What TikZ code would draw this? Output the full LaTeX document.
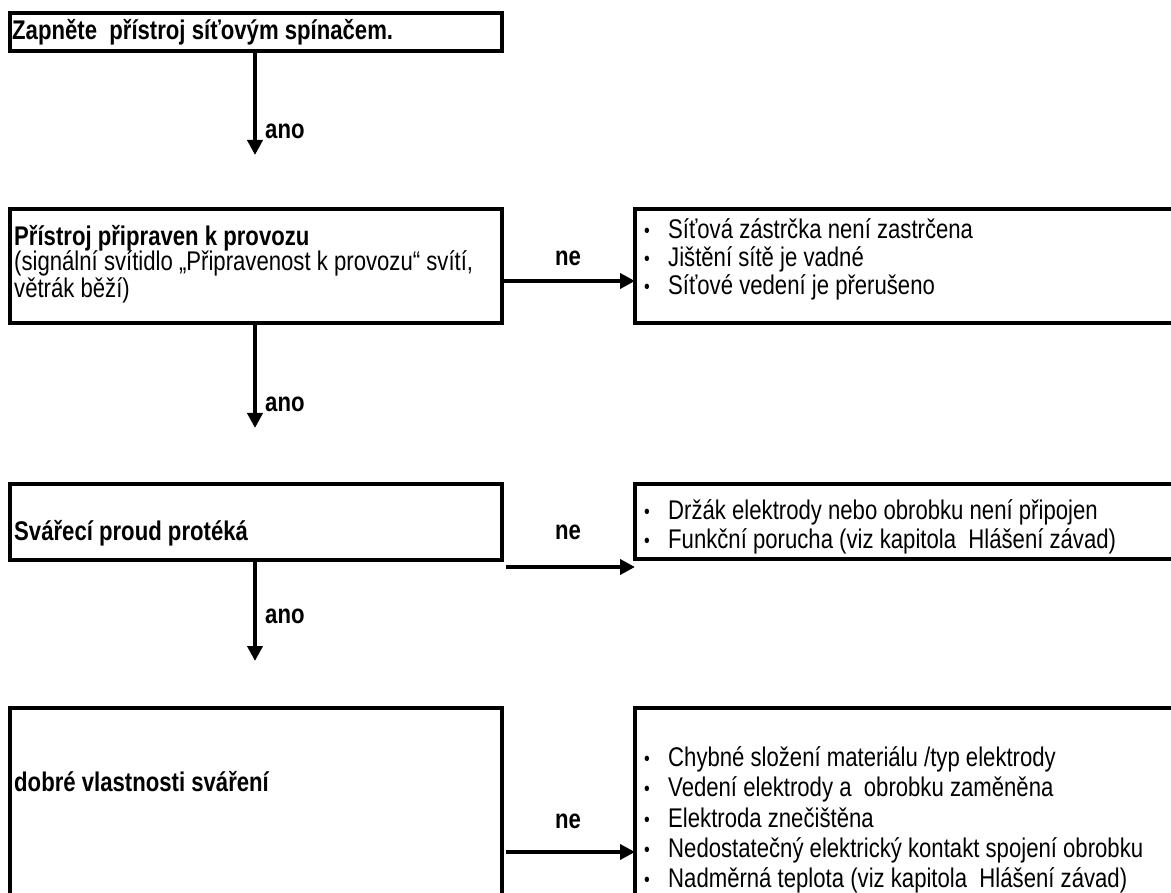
\documentclass[tikz,border=0pt]{standalone}
\usepackage{fontspec}
\setmainfont[FakeStretch=0.82]{Liberation Sans}
\usetikzlibrary{arrows.meta}
\newcommand\bul{\makebox[24pt][l]{\fontsize{20pt}{20pt}\selectfont\raisebox{1pt}{•}}}
\tikzset{
  box/.style={draw, line width=4.5pt, inner sep=0pt, outer sep=0pt, anchor=north west},
  txt/.style={anchor=base west, inner sep=0pt, font=\fontsize{27pt}{32pt}\selectfont},
  btxt/.style={anchor=base west, inner sep=0pt, font=\fontsize{27pt}{32pt}\selectfont\bfseries},
  lbl/.style={anchor=base, inner sep=0pt, font=\fontsize{27pt}{32pt}\selectfont\bfseries},
  albl/.style={anchor=base west, inner sep=0pt, font=\fontsize{27pt}{32pt}\selectfont\bfseries},
  flow/.style={line width=4pt, -{Triangle[length=15pt,width=15pt]}},
}
\begin{document}
\begin{tikzpicture}[x=1pt,y=-1pt]
\useasboundingbox (0,0) rectangle (1171,893);
\clip (0,0) rectangle (1171,893);
% left boxes
\node[box, minimum width=492pt, minimum height=38pt] (b1) at (10,13) {};
\node[box, minimum width=492pt, minimum height=114pt] (b2) at (10,209) {};
\node[box, minimum width=492pt, minimum height=76pt] (b3) at (10,484) {};
\node[box, minimum width=492pt, minimum height=199pt] (b4) at (10,708) {};
% right boxes
\node[box, minimum width=550pt, minimum height=114pt] (r1) at (635,209) {};
\node[box, minimum width=550pt, minimum height=75pt] (r3) at (635,484) {};
\node[box, minimum width=550pt, minimum height=199pt] (r4) at (635,708) {};
% texts in left boxes
\node[btxt] (t1) at (12,40) {Zapněte\ \ přístroj síťovým spínačem.};
\node[btxt] (t2a) at (14,246) {Přístroj připraven k provozu};
\node[txt] (t2b) at (14,271) {(signální svítidlo „Připravenost k provozu“ svítí,};
\node[txt] (t2c) at (14,298) {větrák běží)};
\node[btxt] (t3) at (14,540) {Svářecí proud protéká};
\node[btxt] (t4) at (14,791) {dobré vlastnosti sváření};
% texts in right boxes
\node[txt] (r1a) at (644,239) {\bul Síťová zástrčka není zastrčena};
\node[txt] (r1b) at (644,267) {\bul Jištění sítě je vadné};
\node[txt] (r1c) at (644,295) {\bul Síťové vedení je přerušeno};
\node[txt] (r3a) at (644,519) {\bul Držák elektrody nebo obrobku není připojen};
\node[txt] (r3b) at (644,548) {\bul Funkční porucha (viz kapitola\ \ Hlášení závad)};
\node[txt] (r4a) at (644,766) {\bul Chybné složení materiálu /typ elektrody};
\node[txt] (r4b) at (644,796) {\bul Vedení elektrody a\ \ obrobku zaměněna};
\node[txt] (r4c) at (644,827) {\bul Elektroda znečištěna};
\node[txt] (r4d) at (644,857) {\bul Nedostatečný elektrický kontakt spojení obrobku};
\node[txt] (r4e) at (644,887) {\bul Nadměrná teplota (viz kapitola\ \ Hlášení závad)};
% vertical arrows
\coordinate (e1) at (255,155);
\coordinate (e2) at (255,428);
\coordinate (e3) at (255,661);
\draw[flow] (b1.south -| e1) -- (e1);
\draw[flow] (b2.south -| e2) -- (e2);
\draw[flow] (b3.south -| e3) -- (e3);
\node[albl] (ano1) at (265,139) {ano};
\node[albl] (ano2) at (265,412) {ano};
\node[albl] (ano3) at (265,623) {ano};
% horizontal arrows
\coordinate (s2) at (502,281);
\coordinate (s3) at (506,567);
\coordinate (s4) at (506,852);
\draw[flow] (s2) -- (r1.west |- s2);
\draw[flow] (s3) -- (r3.west |- s3);
\draw[flow] (s4) -- (r4.west |- s4);
\node[lbl] (ne1) at (568,266) {ne};
\node[lbl] (ne2) at (568,539) {ne};
\node[lbl] (ne3) at (568,828) {ne};
\end{tikzpicture}
\end{document}
